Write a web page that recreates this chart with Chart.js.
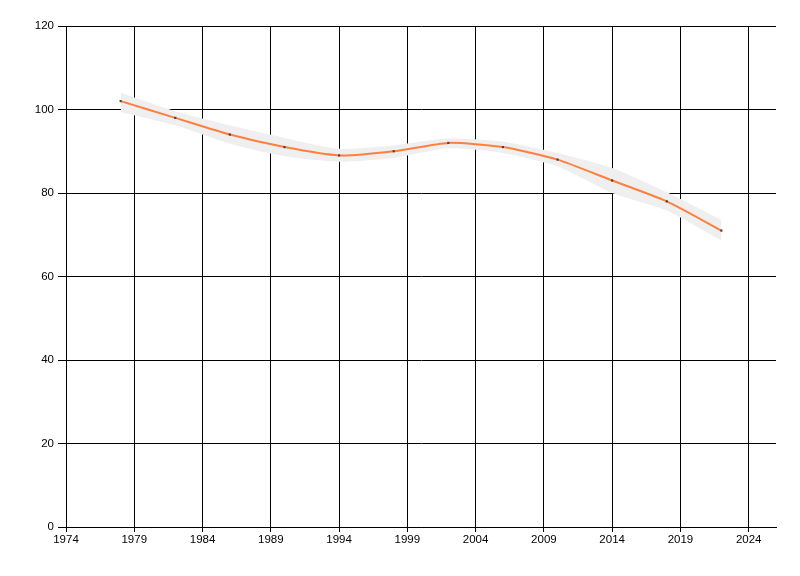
<!DOCTYPE html>
<html>
<head>
<meta charset="utf-8">
<script src="https://cdn.jsdelivr.net/npm/chart.js@4/dist/chart.umd.min.js"></script>
<style>
	html, body { margin: 0; padding: 0; background: #fff; }
	#wrap { width: 800px; height: 576px; }
</style>
</head>
<body>
<div id="wrap"><canvas id="chart" width="800" height="576"></canvas></div>
<script>
'use strict';

// Survey years and values.
var years = [1978, 1982, 1986, 1990, 1994, 1998, 2002, 2006, 2010, 2014, 2018, 2022];
var values = [102, 98, 94, 91, 89, 90, 92, 91, 88, 83, 78, 71];
var upperBand = [104, 99.6, 96.2, 93.2, 90.6, 91.4, 93.1, 92.3, 89.6, 86, 80.2, 73.6];
var lowerBand = [99.4, 96.2, 91.8, 88.8, 87.5, 88.4, 90.7, 89.6, 86.4, 80, 75.8, 68.6];

// Axis ticks.
var xTicks = [1974, 1979, 1984, 1989, 1994, 1999, 2004, 2009, 2014, 2019, 2024];
var yTicks = [0, 20, 40, 60, 80, 100, 120];

function toPoints(ys) {
	return years.map(function(x, i) {
		return { x: x, y: ys[i] };
	});
}

var tickFont = { family: '"Liberation Sans", sans-serif', size: 11.5 };

var ctx = document.getElementById('chart');

new Chart(ctx, {
	type: 'line',
	data: {
		datasets: [ {
			// band top, filled down to the next dataset
			data: toPoints(upperBand),
			order: 2,
			borderWidth: 0,
			pointRadius: 0,
			backgroundColor: '#efefef',
			fill: '+1',
			tension: 0.2
		}, {
			data: toPoints(lowerBand),
			order: 1,
			borderWidth: 0,
			pointRadius: 0,
			backgroundColor: '#efefef',
			fill: false,
			tension: 0.2
		}, {
			data: toPoints(values),
			order: 0,
			borderColor: '#ff7f3f',
			borderWidth: 2,
			pointStyle: 'rect',
			pointRadius: 1.5,
			pointBorderWidth: 0,
			pointBackgroundColor: '#404040',
			fill: false,
			tension: 0.2
		} ]
	},
	options: {
		responsive: false,
		animation: false,
		events: [],
		layout: {
			padding: { left: 0, top: 26, right: 24, bottom: 0 }
		},
		scales: {
			x: {
				type: 'linear',
				min: 1974,
				max: 2026,
				afterBuildTicks: function(scale) {
					scale.ticks = xTicks.map(function(v) { return { value: v }; });
				},
				afterFit: function(scale) {
					scale.height = 49;
				},
				grid: {
					color: '#000',
					lineWidth: 1,
					tickLength: 5
				},
				border: { color: '#000', width: 1 },
				ticks: {
					color: '#000',
					font: tickFont,
					padding: 1,
					maxRotation: 0,
					callback: function(v) { return String(v); }
				}
			},
			y: {
				min: 0,
				max: 120,
				afterBuildTicks: function(scale) {
					scale.ticks = yTicks.map(function(v) { return { value: v }; });
				},
				afterFit: function(scale) {
					scale.width = 66;
				},
				grid: {
					color: '#000',
					lineWidth: 1,
					tickLength: 8
				},
				border: { color: '#000', width: 1 },
				ticks: {
					color: '#000',
					font: tickFont,
					padding: 4
				}
			}
		},
		plugins: {
			legend: { display: false },
			tooltip: { enabled: false }
		}
	}
});
</script>
</body>
</html>
